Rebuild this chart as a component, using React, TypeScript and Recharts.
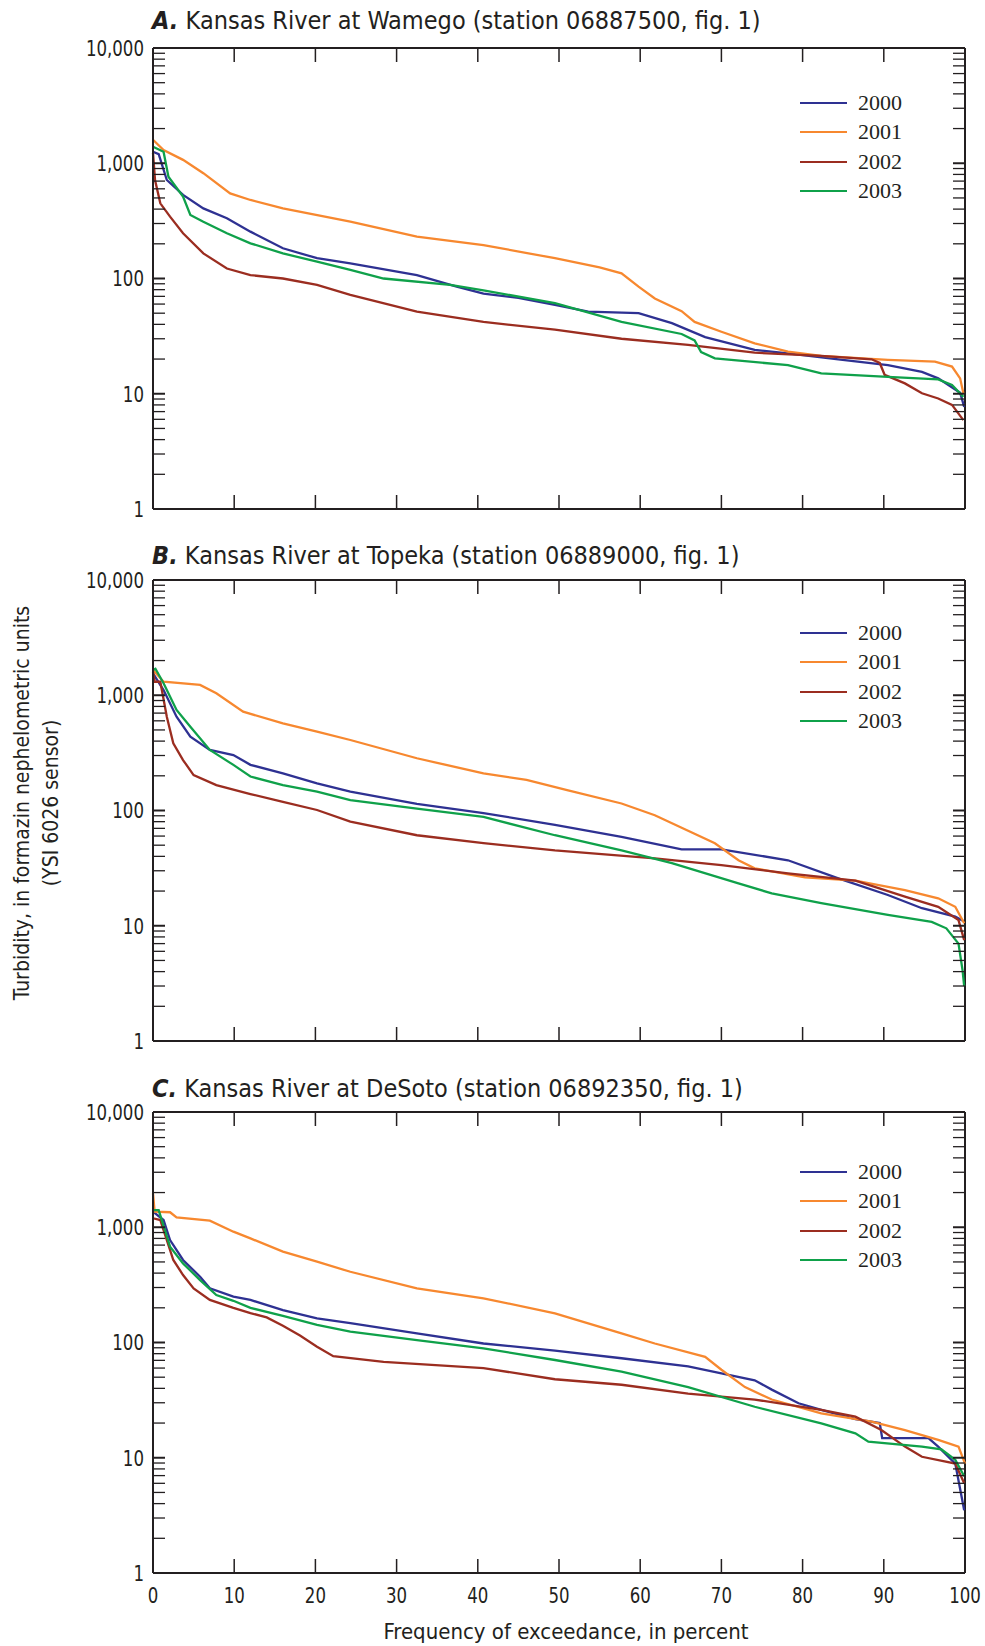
import React from "react";
import { LineChart, Line, XAxis, YAxis, ReferenceLine } from "recharts";

// [frequency of exceedance (%), turbidity (FNU)]
const wamego2000 = [[0, 1260], [0.7, 1200], [1.7, 716], [3.7, 531], [6.2, 406], [9.1, 333], [12, 255], [16, 183], [20.2, 150], [24.3, 135], [32.5, 107], [37.4, 85], [40.7, 74], [45, 68], [49.5, 59], [53.6, 51.5], [59.8, 50], [63.9, 41], [68, 31], [74.1, 24], [78.2, 22.4], [84.4, 19.9], [90.5, 17.7], [94.7, 15.5], [96.7, 13.6], [99.4, 10.2], [99.9, 7.7]];
const wamego2001 = [[0, 1600], [1.3, 1300], [3.7, 1070], [6.2, 820], [9.5, 548], [12, 480], [16, 406], [24.3, 311], [32.5, 231], [40.7, 195], [49.5, 150], [55, 125], [57.7, 111], [59.8, 85], [61.8, 67], [65.1, 52], [66.7, 42], [70, 34.5], [74.1, 27.4], [78.2, 23.2], [82.3, 21.3], [90.5, 19.7], [96.3, 19], [98.4, 17.2], [99.4, 13.6], [99.8, 10.1]];
const wamego2002 = [[0, 1230], [0.25, 716], [0.9, 449], [2.1, 344], [3.7, 247], [6.2, 165], [9.1, 122], [12, 107], [16, 100], [20.2, 88], [24.3, 72], [32.5, 51.5], [40.7, 42], [49.5, 36], [57.7, 30], [65.9, 26.5], [74.1, 22.7], [82.3, 21.3], [88.5, 19.9], [89.5, 18.5], [90.1, 14.6], [92.6, 12.3], [94.7, 10.1], [96.7, 9.1], [98.4, 8], [99.8, 5.9]];
const wamego2003 = [[0, 1390], [1.3, 1260], [1.9, 764], [3.7, 513], [4.6, 356], [6.2, 311], [9.1, 247], [12, 202], [16, 165], [20.2, 140], [24.3, 119], [28.4, 100], [36.6, 88], [40.7, 79], [49.5, 61], [57.7, 42], [65.1, 33], [66.7, 29], [67.5, 23], [69.2, 20.3], [78.2, 17.7], [82.3, 15], [90.5, 14], [96.7, 13.3], [98.4, 11.9], [99.8, 9.4]];

const topeka2000 = [[0, 1550], [1.3, 1110], [2.9, 652], [4.6, 437], [7, 335], [9.9, 303], [12, 249], [16, 210], [20.2, 172], [24.3, 146], [32.5, 114], [40.7, 95], [49.5, 75], [57.7, 59], [65.1, 46], [70, 46], [78.2, 37], [84.4, 25.8], [90.5, 18.5], [94.7, 14.2], [98.8, 12], [99.8, 11]];
const topeka2001 = [[0, 1655], [1.3, 1310], [5.8, 1230], [7.8, 1040], [11.1, 720], [16, 571], [20.2, 483], [24.3, 409], [32.5, 284], [40.7, 210], [46, 184], [51, 150], [57.7, 115], [61.8, 91], [69.2, 52], [72.1, 37], [74.1, 31.5], [80.3, 26.3], [86.5, 24.6], [92.6, 20.4], [96.7, 17.3], [98.8, 14.6], [99.9, 10.5]];
const topeka2002 = [[0, 1600], [0.2, 1310], [0.9, 1310], [1.7, 652], [2.5, 383], [3.7, 274], [5, 203], [7.8, 166], [12, 139], [16, 119], [20.2, 101], [24.3, 80], [32.5, 61], [40.7, 52], [49.5, 45], [61.8, 38.5], [70, 33.6], [78.2, 28.5], [86.5, 24.6], [92.6, 17.9], [96.7, 14.6], [99.2, 11.2], [99.9, 7.5]];
const topeka2003 = [[0, 1655], [0.3, 1700], [1.3, 1270], [2.9, 745], [4.6, 533], [7, 335], [9.9, 249], [12, 197], [16, 166], [20.2, 146], [24.3, 123], [32.5, 104], [40.7, 88], [49.5, 61], [57.7, 45], [63.9, 35], [72.1, 23.3], [76.2, 19.1], [82.3, 15.7], [90.5, 12.4], [95.9, 10.8], [97.7, 9.5], [99.2, 7], [99.7, 4.1], [99.9, 3]];

const desoto2000 = [[0, 1365], [1.3, 1155], [2.1, 774], [3.7, 520], [5.8, 372], [7, 295], [9.9, 250], [12, 234], [16, 191], [20.2, 162], [24.3, 147], [32.5, 120], [40.7, 98], [49.5, 85], [57.7, 73], [65.9, 62], [70, 54], [74.1, 47], [76.2, 39], [79.5, 29.7], [82.3, 26], [86.5, 21.6], [89.5, 20], [89.8, 14.8], [95.5, 14.8], [96.7, 12.5], [98.8, 8.9], [99.9, 3.5]];
const desoto2001 = [[0, 1970], [0.2, 1365], [2.1, 1350], [2.9, 1220], [7, 1140], [9.9, 915], [12, 801], [16, 614], [20.2, 503], [24.3, 411], [32.5, 295], [40.7, 242], [49.5, 179], [57.7, 120], [61.8, 98], [68, 75], [70, 58], [72.9, 41], [76.2, 32], [82.3, 24.3], [88.5, 20.6], [92.6, 17.4], [96.7, 14.3], [99.2, 12.5], [100, 8.9]];
const desoto2002 = [[0, 1197], [0.9, 1155], [2.5, 520], [3.7, 385], [5, 295], [7, 234], [9.9, 200], [12, 180], [14, 165], [16, 140], [18.1, 115], [20.2, 92], [22.2, 76], [28.4, 68], [40.7, 60], [49.5, 48], [57.7, 43], [65.9, 36], [74.1, 32], [82.3, 26], [86.5, 22.7], [89.7, 17.4], [92.6, 12.5], [94.7, 10.2], [98.8, 8.9], [99.9, 6]];
const desoto2003 = [[0, 1410], [0.7, 1410], [2.1, 678], [3.7, 486], [5.8, 348], [7.8, 258], [9.9, 230], [12, 200], [16, 170], [20.2, 142], [24.3, 124], [32.5, 105], [40.7, 89], [49.5, 70.5], [57.7, 56], [65.9, 41], [74.1, 27.7], [82.3, 19.9], [86.5, 16.3], [88.1, 13.8], [94.7, 12.5], [97.1, 11.8], [98.8, 9.6], [99.9, 6.9]];

const YEARS = ["2000", "2001", "2002", "2003"];
const COLORS = ["#2e3192", "#f7882f", "#9b2d20", "#0fa14a"];
const X_TICKS = [0, 10, 20, 30, 40, 50, 60, 70, 80, 90, 100];
const Y_MAJOR = [1, 10, 100, 1000, 10000];
const Y_TICKS = [1, 2, 3, 4, 5, 6, 7, 8, 9, 10, 20, 30, 40, 50, 60, 70, 80, 90, 100, 200, 300, 400, 500, 600, 700, 800, 900, 1000, 2000, 3000, 4000, 5000, 6000, 7000, 8000, 9000, 10000];

const PANELS = [
	{ letter: "A.", title: "Kansas River at Wamego (station 06887500, fig. 1)", series: [wamego2000, wamego2001, wamego2002, wamego2003], top: 48, titleY: 21, legendY: 55 },
	{ letter: "B.", title: "Kansas River at Topeka (station 06889000, fig. 1)", series: [topeka2000, topeka2001, topeka2002, topeka2003], top: 580, titleY: 556, legendY: 53 },
	{ letter: "C.", title: "Kansas River at DeSoto (station 06892350, fig. 1)", series: [desoto2000, desoto2001, desoto2002, desoto2003], top: 1112, titleY: 1089, legendY: 60 },
];

const SANS = '"Liberation Sans Narrow", "Arial Narrow", "DejaVu Sans Condensed", sans-serif';
const SERIF = '"Liberation Serif", "Times New Roman", serif';
const INK = "#231f20";

const W = 985;
const LEFT = 153;
const RIGHT = 965;
const PTOP = 20;
const PH = 461;
const SQUISH = 0.84; // condensed look for numbers

const fmt = (v: number) => v.toLocaleString("en-US");

function YTick(props: any) {
	const { y, payload } = props;
	const major = Y_MAJOR.includes(payload.value);
	const sw = major ? 2 : 1.3;
	return (
		<g>
			{payload.value !== 1 && payload.value !== 10000 && (
				<>
					<line x1={LEFT} x2={LEFT + 12} y1={y} y2={y} stroke={INK} strokeWidth={sw} />
					<line x1={RIGHT - 12} x2={RIGHT} y1={y} y2={y} stroke={INK} strokeWidth={sw} />
				</>
			)}
			{major && (
				<text
					transform={`translate(${LEFT - 9},${y}) scale(${SQUISH},1)`}
					dy="0.36em"
					textAnchor="end"
					fontFamily={SANS}
					fontSize={22}
					fill={INK}
				>
					{fmt(payload.value)}
				</text>
			)}
		</g>
	);
}

function makeXTick(showLabel: boolean) {
	return (props: any) => {
		const { x, payload } = props;
		const edge = payload.value === 0 || payload.value === 100;
		return (
			<g>
				{!edge && (
					<>
						<line x1={x} x2={x} y1={PTOP + PH} y2={PTOP + PH - 14} stroke={INK} strokeWidth={1.5} />
						<line x1={x} x2={x} y1={PTOP} y2={PTOP + 14} stroke={INK} strokeWidth={1.5} />
					</>
				)}
				{showLabel && (
					<text
						transform={`translate(${x},${PTOP + PH + 22}) scale(${SQUISH},1)`}
						dy="0.36em"
						textAnchor="middle"
						fontFamily={SANS}
						fontSize={22}
						fill={INK}
					>
						{payload.value}
					</text>
				)}
			</g>
		);
	};
}

function Panel({ panel, last }: { panel: (typeof PANELS)[number]; last: boolean }) {
	const xh = last ? 40 : 20;
	const h = PTOP + PH + xh;
	return (
		<div style={{ position: "absolute", left: 0, top: panel.top - PTOP, width: W, height: h }}>
			<LineChart width={W} height={h} margin={{ top: PTOP, right: W - RIGHT, bottom: 0, left: 0 }}>
				<XAxis
					type="number"
					dataKey="x"
					domain={[0, 100]}
					ticks={X_TICKS}
					interval={0}
					height={xh}
					tickLine={false}
					tick={makeXTick(last)}
					axisLine={{ stroke: INK, strokeWidth: 2 }}
				/>
				<YAxis
					type="number"
					scale="log"
					domain={[1, 10000]}
					allowDataOverflow
					ticks={Y_TICKS}
					interval={0}
					width={LEFT}
					tickLine={false}
					tickSize={0}
					tick={<YTick />}
					axisLine={{ stroke: INK, strokeWidth: 2 }}
				/>
				<ReferenceLine y={10000} stroke={INK} strokeWidth={2} ifOverflow="visible" />
				<ReferenceLine x={100} stroke={INK} strokeWidth={2} ifOverflow="visible" />
				{panel.series.map((s, i) => (
					<Line
						key={YEARS[i]}
						name={YEARS[i]}
						data={s.map(([x, y]) => ({ x, y }))}
						dataKey="y"
						type="linear"
						stroke={COLORS[i]}
						strokeWidth={2.3}
						dot={false}
						isAnimationActive={false}
					/>
				))}
			</LineChart>
			{/* legend */}
			<div style={{ position: "absolute", left: 800, top: PTOP + panel.legendY - 15 }}>
				{YEARS.map((yr, i) => (
					<div key={yr} style={{ display: "flex", alignItems: "center", height: 29.5 }}>
						<span style={{ width: 47, height: 2, background: COLORS[i], display: "inline-block" }} />
						<span style={{ marginLeft: 11, fontFamily: SERIF, fontSize: 22, color: INK, lineHeight: "22px" }}>{yr}</span>
					</div>
				))}
			</div>
		</div>
	);
}

export default function App() {
	return (
		<div style={{ position: "relative", width: W, height: 1646, background: "#fff" }}>
			<style>{"body{margin:0}"}</style>
			{PANELS.map((p, i) => (
				<React.Fragment key={p.letter}>
					<div
						style={{
							position: "absolute",
							left: 152,
							top: p.titleY - 14,
							fontFamily: SANS,
							fontSize: 25,
							lineHeight: "28px",
							color: INK,
							whiteSpace: "nowrap",
						}}
					>
						<b>
							<i>{p.letter}</i>
						</b>{" "}
						{p.title}
					</div>
					<Panel panel={p} last={i === PANELS.length - 1} />
				</React.Fragment>
			))}
			{/* y-axis title */}
			<div
				style={{
					position: "absolute",
					left: 37,
					top: 803,
					transform: "translate(-50%, -50%) rotate(-90deg)",
					fontFamily: SANS,
					fontSize: 21,
					lineHeight: "29px",
					color: INK,
					textAlign: "center",
					whiteSpace: "nowrap",
				}}
			>
				Turbidity, in formazin nephelometric units
				<br />
				(YSI 6026 sensor)
			</div>
			{/* x-axis title */}
			<div
				style={{
					position: "absolute",
					left: 566,
					top: 1631,
					transform: "translate(-50%, -50%)",
					fontFamily: SANS,
					fontSize: 22,
					color: INK,
					whiteSpace: "nowrap",
				}}
			>
				Frequency of exceedance, in percent
			</div>
		</div>
	);
}
